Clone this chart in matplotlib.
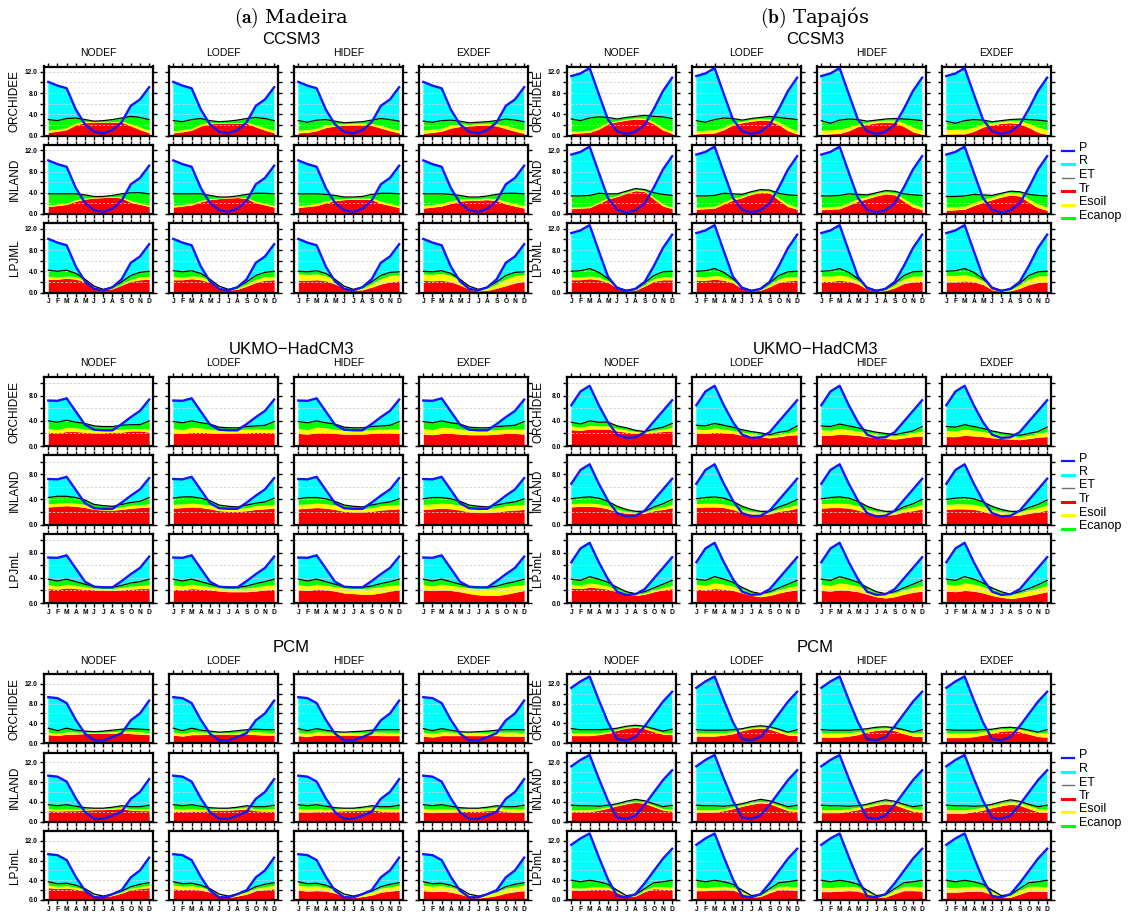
import numpy as np
import matplotlib
matplotlib.use('Agg')
import matplotlib.pyplot as plt
from matplotlib.lines import Line2D

plt.rcParams['font.family'] = ['Liberation Sans', 'DejaVu Sans']
plt.rcParams['mathtext.fontset'] = 'cm'

MONTHS = ['J', 'F', 'M', 'A', 'M', 'J', 'J', 'A', 'S', 'O', 'N', 'D']
DEFICITS = ['NODEF', 'LODEF', 'HIDEF', 'EXDEF']
MODELS = ['ORC', 'INL', 'LPJ']
ROW_LABELS = {'CCSM3': ['ORCHIDEE', 'INLAND', 'LPJML'],
              'UKMO': ['ORCHIDEE', 'INLAND', 'LPJmL'],
              'PCM': ['ORCHIDEE', 'INLAND', 'LPJmL']}
GCMS = ['CCSM3', 'UKMO', 'PCM']
GCM_TITLES = ['CCSM3', 'UKMO\u2212HadCM3', 'PCM']
BASINS = ['MAD', 'TAP']
BASIN_TAGS = [r'$\mathbf{(a)}$', r'$\mathbf{(b)}$']
BASIN_NAMES = ['Madeira', 'Tapajós']
LEGEND_LABELS = ['P', 'R', 'ET', 'Tr', 'Esoil', 'Ecanop']

# ---------------- Madeira / CCSM3 ----------------
MAD_CCSM3_P = [10.1, 9.4, 8.9, 4.9, 2.1, 0.7, 0.4, 1.0, 2.5, 5.6, 6.8, 9.1]
MAD_CCSM3_ORC_TR = [[0.6, 0.8, 1.1, 2.0, 2.4, 2.5, 2.5, 2.5, 2.5, 1.8, 1.1, 0.5],
                    [0.5, 0.7, 1.0, 1.8, 2.2, 2.3, 2.3, 2.3, 2.3, 1.6, 1.0, 0.5],
                    [0.5, 0.6, 0.9, 1.5, 1.8, 1.9, 2.0, 2.0, 1.9, 1.4, 0.9, 0.5],
                    [0.4, 0.6, 0.8, 1.4, 1.7, 1.8, 1.9, 2.0, 1.8, 1.3, 0.8, 0.4]]
MAD_CCSM3_ORC_ES = [[0.4, 0.4, 0.4, 0.4, 0.3, 0.1, 0.1, 0.1, 0.2, 0.4, 0.5, 0.5],
                    [0.4, 0.4, 0.4, 0.4, 0.3, 0.1, 0.1, 0.1, 0.2, 0.4, 0.5, 0.5],
                    [0.5, 0.5, 0.5, 0.5, 0.4, 0.3, 0.3, 0.3, 0.4, 0.5, 0.5, 0.5],
                    [0.6, 0.6, 0.6, 0.6, 0.5, 0.3, 0.3, 0.3, 0.4, 0.6, 0.6, 0.6]]
MAD_CCSM3_ORC_EC = [[2.0, 1.6, 1.7, 0.9, 0.3, 0.1, 0.2, 0.4, 0.6, 1.4, 1.8, 2.0],
                    [1.9, 1.5, 1.6, 1.0, 0.3, 0.2, 0.3, 0.5, 0.7, 1.4, 1.7, 1.8],
                    [1.8, 1.4, 1.5, 1.0, 0.5, 0.2, 0.2, 0.3, 0.6, 1.3, 1.6, 1.7],
                    [1.7, 1.3, 1.4, 0.9, 0.5, 0.3, 0.3, 0.3, 0.6, 1.2, 1.5, 1.6]]
MAD_CCSM3_INL_TR = [[1.4, 1.6, 1.8, 2.4, 2.8, 3.0, 3.1, 3.2, 3.0, 2.2, 1.8, 1.4],
                    [1.3, 1.5, 1.7, 2.3, 2.7, 2.9, 3.0, 3.1, 2.9, 2.1, 1.7, 1.3],
                    [1.2, 1.4, 1.6, 2.1, 2.5, 2.7, 2.8, 2.8, 2.7, 2.0, 1.6, 1.2],
                    [1.1, 1.3, 1.5, 2.0, 2.4, 2.6, 2.6, 2.7, 2.5, 1.9, 1.5, 1.1]]
MAD_CCSM3_INL_ES = [[0.3, 0.3, 0.3, 0.3, 0.2, 0.1, 0.1, 0.1, 0.2, 0.3, 0.3, 0.3],
                    [0.3, 0.3, 0.3, 0.3, 0.2, 0.1, 0.1, 0.1, 0.2, 0.3, 0.3, 0.3],
                    [0.4, 0.4, 0.4, 0.4, 0.3, 0.2, 0.2, 0.2, 0.3, 0.4, 0.4, 0.4],
                    [0.5, 0.5, 0.5, 0.5, 0.4, 0.3, 0.3, 0.3, 0.4, 0.5, 0.5, 0.5]]
MAD_CCSM3_INL_EC = [[2.1, 1.9, 1.7, 1.1, 0.6, 0.2, 0.1, 0.2, 0.6, 1.5, 1.9, 2.1],
                    [2.2, 2.0, 1.8, 1.2, 0.6, 0.2, 0.1, 0.2, 0.6, 1.5, 1.9, 2.2],
                    [2.2, 2.0, 1.8, 1.2, 0.7, 0.3, 0.2, 0.3, 0.7, 1.5, 1.9, 2.2],
                    [2.2, 2.0, 1.8, 1.2, 0.7, 0.3, 0.3, 0.4, 0.8, 1.5, 1.9, 2.2]]
MAD_CCSM3_LPJ_TR = [[2.5, 2.5, 2.7, 2.5, 2.0, 1.0, 0.5, 0.7, 1.4, 2.1, 2.4, 2.5],
                    [2.4, 2.4, 2.6, 2.4, 1.9, 0.9, 0.45, 0.6, 1.2, 1.9, 2.3, 2.4],
                    [2.3, 2.3, 2.4, 2.2, 1.6, 0.8, 0.4, 0.5, 1.0, 1.6, 2.0, 2.2],
                    [2.3, 2.2, 2.3, 2.0, 1.4, 0.6, 0.3, 0.4, 0.8, 1.3, 1.8, 2.1]]
MAD_CCSM3_LPJ_ES = [[0.5, 0.4, 0.4, 0.5, 0.3, 0.1, 0.05, 0.1, 0.2, 0.4, 0.6, 0.5],
                    [0.6, 0.5, 0.5, 0.6, 0.4, 0.2, 0.1, 0.2, 0.4, 0.6, 0.7, 0.6],
                    [1.2, 1.1, 1.1, 1.0, 0.7, 0.3, 0.15, 0.3, 0.6, 1.0, 1.2, 1.2],
                    [1.2, 1.2, 1.3, 1.2, 0.9, 0.5, 0.25, 0.4, 0.8, 1.3, 1.4, 1.3]]
MAD_CCSM3_LPJ_EC = [[1.2, 1.1, 1.1, 0.6, 0.2, 0.1, 0.05, 0.2, 0.4, 0.7, 0.8, 1.0],
                    [1.1, 1.0, 1.0, 0.6, 0.2, 0.1, 0.05, 0.2, 0.4, 0.7, 0.8, 1.0],
                    [0.5, 0.5, 0.6, 0.4, 0.2, 0.1, 0.05, 0.2, 0.4, 0.6, 0.6, 0.5],
                    [0.5, 0.5, 0.5, 0.4, 0.2, 0.1, 0.05, 0.2, 0.4, 0.6, 0.6, 0.5]]

# ---------------- Tapajos / CCSM3 ----------------
TAP_CCSM3_P = [11.2, 11.7, 12.7, 7.8, 3.0, 0.8, 0.3, 0.7, 2.0, 5.0, 8.4, 10.9]
TAP_CCSM3_ORC_TR = [[0.4, 0.5, 0.6, 1.2, 2.2, 2.6, 2.9, 3.1, 3.0, 2.2, 1.0, 0.4],
                    [0.3, 0.4, 0.5, 1.1, 2.0, 2.4, 2.7, 2.9, 2.8, 2.0, 0.9, 0.3],
                    [0.2, 0.3, 0.4, 0.9, 1.7, 2.1, 2.4, 2.5, 2.4, 1.7, 0.7, 0.2],
                    [0.2, 0.3, 0.3, 0.8, 1.6, 2.0, 2.3, 2.4, 2.2, 1.5, 0.6, 0.2]]
TAP_CCSM3_ORC_ES = [[0.4, 0.4, 0.4, 0.4, 0.3, 0.2, 0.2, 0.2, 0.3, 0.4, 0.5, 0.4],
                    [0.6, 0.6, 0.6, 0.5, 0.4, 0.3, 0.3, 0.3, 0.4, 0.6, 0.7, 0.6],
                    [0.8, 0.8, 0.8, 0.7, 0.5, 0.4, 0.3, 0.4, 0.5, 0.7, 0.9, 0.8],
                    [0.9, 0.9, 0.9, 0.8, 0.6, 0.4, 0.3, 0.4, 0.6, 0.8, 1.0, 0.9]]
TAP_CCSM3_ORC_EC = [[2.3, 1.9, 2.3, 1.9, 0.9, 0.3, 0.3, 0.3, 0.5, 1.0, 2.0, 2.4],
                    [1.9, 1.5, 1.9, 1.7, 0.8, 0.2, 0.2, 0.2, 0.4, 0.8, 1.6, 2.1],
                    [1.8, 1.2, 1.7, 1.5, 0.8, 0.2, 0.2, 0.2, 0.3, 0.7, 1.4, 1.8],
                    [1.6, 1.1, 1.6, 1.4, 0.7, 0.2, 0.2, 0.2, 0.3, 0.7, 1.3, 1.6]]
TAP_CCSM3_INL_TR = [[1.0, 1.1, 1.2, 2.0, 2.8, 3.3, 3.9, 4.4, 4.2, 2.8, 1.5, 1.0],
                    [0.9, 1.0, 1.1, 1.9, 2.6, 3.1, 3.7, 4.1, 4.0, 2.6, 1.4, 0.9],
                    [0.8, 0.9, 1.0, 1.7, 2.4, 2.9, 3.4, 3.8, 3.6, 2.4, 1.3, 0.8],
                    [0.7, 0.8, 0.9, 1.6, 2.2, 2.7, 3.2, 3.6, 3.4, 2.2, 1.2, 0.7]]
TAP_CCSM3_INL_ES = [[0.3, 0.3, 0.3, 0.3, 0.3, 0.2, 0.2, 0.2, 0.2, 0.3, 0.4, 0.3],
                    [0.4, 0.4, 0.4, 0.4, 0.4, 0.3, 0.3, 0.3, 0.3, 0.4, 0.5, 0.4],
                    [0.5, 0.5, 0.5, 0.5, 0.5, 0.4, 0.4, 0.4, 0.4, 0.5, 0.6, 0.5],
                    [0.6, 0.6, 0.6, 0.6, 0.6, 0.5, 0.5, 0.5, 0.5, 0.6, 0.7, 0.6]]
TAP_CCSM3_INL_EC = [[2.1, 2.0, 2.0, 1.6, 0.7, 0.3, 0.2, 0.2, 0.2, 0.9, 1.8, 2.2],
                    [2.1, 2.0, 2.0, 1.6, 0.8, 0.3, 0.2, 0.2, 0.2, 0.9, 1.7, 2.2],
                    [2.1, 2.0, 2.0, 1.6, 0.8, 0.3, 0.2, 0.2, 0.3, 0.9, 1.7, 2.2],
                    [2.0, 1.9, 1.9, 1.5, 0.8, 0.3, 0.2, 0.2, 0.3, 0.9, 1.6, 2.1]]
TAP_CCSM3_LPJ_TR = [[2.4, 2.4, 2.6, 2.4, 1.9, 0.8, 0.3, 0.4, 1.2, 2.1, 2.4, 2.4],
                    [2.3, 2.3, 2.5, 2.3, 1.8, 0.7, 0.3, 0.4, 1.1, 1.9, 2.2, 2.3],
                    [2.1, 2.1, 2.3, 2.1, 1.6, 0.6, 0.25, 0.35, 0.9, 1.7, 2.0, 2.1],
                    [2.0, 2.0, 2.2, 2.0, 1.5, 0.5, 0.2, 0.3, 0.8, 1.5, 1.9, 2.0]]
TAP_CCSM3_LPJ_ES = [[0.5, 0.5, 0.5, 0.5, 0.3, 0.1, 0.05, 0.1, 0.3, 0.5, 0.6, 0.5],
                    [0.7, 0.7, 0.7, 0.7, 0.5, 0.2, 0.05, 0.1, 0.4, 0.7, 0.8, 0.7],
                    [1.0, 1.0, 1.0, 0.9, 0.6, 0.3, 0.1, 0.15, 0.5, 0.9, 1.1, 1.0],
                    [1.2, 1.2, 1.2, 1.0, 0.7, 0.4, 0.15, 0.2, 0.6, 1.1, 1.2, 1.2]]
TAP_CCSM3_LPJ_EC = [[1.1, 1.2, 1.4, 0.9, 0.4, 0.1, 0.05, 0.1, 0.3, 0.6, 0.9, 1.1],
                    [1.0, 1.1, 1.3, 0.8, 0.3, 0.1, 0.05, 0.1, 0.3, 0.6, 0.9, 1.0],
                    [0.9, 1.0, 1.2, 0.8, 0.4, 0.1, 0.05, 0.1, 0.3, 0.6, 0.8, 0.9],
                    [0.8, 0.9, 1.1, 0.8, 0.4, 0.1, 0.05, 0.1, 0.3, 0.6, 0.8, 0.8]]

# ---------------- Madeira / UKMO-HadCM3 ----------------
MAD_UKMO_P = [7.25, 7.2, 7.6, 5.5, 3.4, 2.6, 2.5, 2.5, 3.5, 4.6, 5.6, 7.4]
MAD_UKMO_ORC_TR = [[2.2, 2.1, 2.3, 2.3, 2.2, 2.1, 2.1, 2.2, 2.2, 2.4, 2.4, 2.2],
                   [2.1, 2.0, 2.2, 2.2, 2.1, 2.0, 2.0, 2.1, 2.1, 2.2, 2.2, 2.1],
                   [2.0, 1.9, 2.1, 2.1, 2.0, 1.9, 1.9, 1.9, 2.0, 2.1, 2.1, 2.0],
                   [1.9, 1.8, 2.0, 2.0, 1.9, 1.8, 1.8, 1.8, 1.9, 2.0, 2.0, 1.9]]
MAD_UKMO_ORC_ES = [[0.6, 0.5, 0.7, 0.6, 0.5, 0.4, 0.4, 0.4, 0.5, 0.4, 0.4, 0.5],
                   [0.7, 0.6, 0.8, 0.7, 0.6, 0.5, 0.5, 0.5, 0.6, 0.5, 0.5, 0.6],
                   [0.8, 0.7, 0.9, 0.8, 0.7, 0.6, 0.6, 0.6, 0.6, 0.6, 0.6, 0.7],
                   [0.9, 0.8, 1.0, 0.9, 0.8, 0.7, 0.7, 0.7, 0.7, 0.7, 0.7, 0.8]]
MAD_UKMO_ORC_EC = [[1.2, 1.2, 1.1, 0.9, 0.9, 0.7, 0.6, 0.5, 0.6, 0.6, 0.6, 1.3],
                   [1.1, 1.1, 1.0, 0.8, 0.8, 0.5, 0.4, 0.3, 0.4, 0.5, 0.6, 1.2],
                   [1.1, 1.1, 1.0, 0.8, 0.8, 0.5, 0.4, 0.4, 0.5, 0.5, 0.6, 1.2],
                   [1.1, 1.1, 1.0, 0.8, 0.8, 0.5, 0.4, 0.4, 0.5, 0.5, 0.6, 1.2]]
MAD_UKMO_INL_TR = [[2.8, 2.9, 3.0, 2.9, 2.7, 2.4, 2.3, 2.3, 2.4, 2.6, 2.7, 2.8],
                   [2.6, 2.7, 2.8, 2.7, 2.5, 2.2, 2.1, 2.1, 2.2, 2.4, 2.5, 2.6],
                   [2.5, 2.6, 2.7, 2.6, 2.4, 2.1, 2.0, 2.0, 2.1, 2.3, 2.4, 2.5],
                   [2.4, 2.5, 2.6, 2.5, 2.3, 2.0, 1.9, 1.9, 2.0, 2.2, 2.3, 2.4]]
MAD_UKMO_INL_ES = [[0.5, 0.5, 0.5, 0.5, 0.5, 0.4, 0.4, 0.3, 0.4, 0.5, 0.5, 0.5],
                   [0.6, 0.6, 0.6, 0.6, 0.6, 0.5, 0.5, 0.4, 0.5, 0.6, 0.6, 0.6],
                   [0.7, 0.7, 0.7, 0.7, 0.7, 0.6, 0.6, 0.5, 0.6, 0.7, 0.7, 0.7],
                   [0.8, 0.8, 0.8, 0.8, 0.8, 0.7, 0.7, 0.6, 0.7, 0.8, 0.8, 0.8]]
MAD_UKMO_INL_EC = [[1.0, 1.1, 1.0, 0.9, 0.7, 0.4, 0.3, 0.3, 0.4, 0.4, 0.5, 1.0],
                   [1.0, 1.1, 1.0, 0.9, 0.7, 0.4, 0.3, 0.3, 0.4, 0.4, 0.5, 1.0],
                   [0.9, 1.0, 0.9, 0.8, 0.6, 0.4, 0.3, 0.3, 0.4, 0.4, 0.5, 0.9],
                   [0.9, 1.0, 0.9, 0.8, 0.6, 0.4, 0.3, 0.3, 0.4, 0.4, 0.5, 0.9]]
MAD_UKMO_LPJ_TR = [[2.3, 2.2, 2.4, 2.3, 2.2, 2.1, 2.0, 2.0, 2.1, 2.2, 2.3, 2.3],
                   [2.2, 2.1, 2.3, 2.2, 2.1, 1.9, 1.8, 1.8, 1.8, 1.9, 2.1, 2.2],
                   [2.1, 2.0, 2.2, 2.1, 1.9, 1.6, 1.5, 1.4, 1.4, 1.6, 1.9, 2.1],
                   [2.1, 2.0, 2.1, 2.0, 1.8, 1.5, 1.3, 1.2, 1.2, 1.4, 1.7, 2.0]]
MAD_UKMO_LPJ_ES = [[0.6, 0.5, 0.6, 0.5, 0.4, 0.3, 0.3, 0.3, 0.4, 0.5, 0.5, 0.6],
                   [0.7, 0.6, 0.7, 0.6, 0.5, 0.5, 0.5, 0.5, 0.6, 0.7, 0.7, 0.7],
                   [0.8, 0.7, 0.8, 0.7, 0.7, 0.8, 0.8, 0.9, 1.0, 1.0, 0.9, 0.8],
                   [0.8, 0.7, 0.9, 0.8, 0.8, 0.9, 1.0, 1.1, 1.2, 1.2, 1.1, 0.9]]
MAD_UKMO_LPJ_EC = [[0.9, 0.8, 0.8, 0.6, 0.4, 0.2, 0.2, 0.2, 0.3, 0.5, 0.6, 0.9],
                   [0.9, 0.8, 0.8, 0.6, 0.4, 0.2, 0.2, 0.2, 0.3, 0.5, 0.6, 0.9],
                   [0.9, 0.8, 0.8, 0.6, 0.4, 0.2, 0.2, 0.2, 0.3, 0.5, 0.6, 0.9],
                   [0.9, 0.8, 0.8, 0.6, 0.4, 0.2, 0.2, 0.2, 0.3, 0.5, 0.6, 0.9]]

# ---------------- Tapajos / UKMO-HadCM3 ----------------
TAP_UKMO_P = [6.5, 8.7, 9.6, 6.5, 3.8, 1.8, 1.3, 1.4, 2.2, 3.9, 5.6, 7.3]
TAP_UKMO_ORC_TR = [[2.6, 2.5, 2.7, 2.7, 2.7, 2.4, 2.2, 2.0, 2.0, 2.2, 2.3, 2.4],
                   [2.0, 2.0, 2.2, 2.1, 2.0, 1.7, 1.5, 1.4, 1.3, 1.5, 1.7, 1.8],
                   [1.7, 1.7, 1.9, 1.8, 1.7, 1.5, 1.3, 1.2, 1.1, 1.3, 1.5, 1.6],
                   [1.5, 1.5, 1.7, 1.6, 1.5, 1.3, 1.2, 1.1, 1.0, 1.2, 1.4, 1.5]]
TAP_UKMO_ORC_ES = [[0.6, 0.5, 0.6, 0.5, 0.5, 0.4, 0.4, 0.3, 0.2, 0.3, 0.4, 0.6],
                   [0.7, 0.6, 0.7, 0.6, 0.5, 0.5, 0.5, 0.4, 0.3, 0.4, 0.4, 0.7],
                   [0.9, 0.8, 0.9, 0.8, 0.7, 0.6, 0.6, 0.5, 0.5, 0.5, 0.6, 0.8],
                   [1.0, 0.9, 1.0, 0.9, 0.8, 0.7, 0.6, 0.5, 0.5, 0.5, 0.6, 0.8]]
TAP_UKMO_ORC_EC = [[0.6, 0.5, 0.7, 0.6, 0.6, 0.4, 0.3, 0.2, 0.1, 0.2, 0.3, 0.6],
                   [0.6, 0.6, 0.7, 0.6, 0.5, 0.4, 0.3, 0.3, 0.2, 0.3, 0.3, 0.7],
                   [0.6, 0.6, 0.7, 0.6, 0.5, 0.4, 0.3, 0.3, 0.2, 0.3, 0.3, 0.7],
                   [0.6, 0.6, 0.7, 0.6, 0.5, 0.4, 0.3, 0.3, 0.2, 0.3, 0.3, 0.7]]
TAP_UKMO_INL_TR = [[2.8, 2.9, 2.9, 2.8, 2.5, 2.0, 1.8, 1.7, 1.8, 2.2, 2.4, 2.7],
                   [2.7, 2.8, 2.8, 2.7, 2.4, 1.9, 1.7, 1.6, 1.7, 2.1, 2.3, 2.6],
                   [2.6, 2.7, 2.7, 2.6, 2.3, 1.8, 1.6, 1.5, 1.6, 2.0, 2.2, 2.5],
                   [2.4, 2.5, 2.5, 2.4, 2.1, 1.7, 1.5, 1.4, 1.5, 1.8, 2.0, 2.3]]
TAP_UKMO_INL_ES = [[0.5, 0.5, 0.5, 0.5, 0.5, 0.4, 0.3, 0.2, 0.2, 0.3, 0.4, 0.5],
                   [0.6, 0.6, 0.6, 0.6, 0.6, 0.5, 0.4, 0.3, 0.3, 0.4, 0.5, 0.6],
                   [0.7, 0.7, 0.7, 0.7, 0.7, 0.6, 0.5, 0.4, 0.4, 0.5, 0.6, 0.7],
                   [0.8, 0.8, 0.8, 0.8, 0.8, 0.7, 0.6, 0.5, 0.5, 0.6, 0.7, 0.8]]
TAP_UKMO_INL_EC = [[0.8, 0.9, 1.0, 0.9, 0.7, 0.5, 0.3, 0.2, 0.1, 0.3, 0.5, 0.8],
                   [0.8, 0.9, 1.0, 0.9, 0.7, 0.5, 0.3, 0.2, 0.1, 0.3, 0.5, 0.8],
                   [0.8, 0.9, 1.0, 0.9, 0.7, 0.5, 0.3, 0.2, 0.1, 0.3, 0.5, 0.8],
                   [0.8, 0.9, 1.0, 0.9, 0.7, 0.5, 0.3, 0.2, 0.1, 0.3, 0.5, 0.8]]
TAP_UKMO_LPJ_TR = [[2.4, 2.3, 2.5, 2.4, 2.2, 1.8, 1.4, 1.2, 1.4, 1.8, 2.1, 2.3],
                   [2.2, 2.1, 2.3, 2.2, 2.0, 1.6, 1.2, 1.0, 1.2, 1.6, 1.9, 2.1],
                   [2.0, 1.9, 2.1, 2.0, 1.8, 1.4, 1.0, 0.8, 1.0, 1.4, 1.7, 1.9],
                   [1.9, 1.8, 2.0, 1.9, 1.6, 1.2, 0.9, 0.7, 0.9, 1.2, 1.5, 1.8]]
TAP_UKMO_LPJ_ES = [[0.6, 0.5, 0.7, 0.6, 0.5, 0.3, 0.2, 0.2, 0.2, 0.3, 0.4, 0.5],
                   [0.8, 0.7, 0.9, 0.8, 0.7, 0.5, 0.4, 0.4, 0.4, 0.5, 0.6, 0.7],
                   [1.0, 0.9, 1.1, 1.0, 0.9, 0.7, 0.6, 0.6, 0.6, 0.7, 0.8, 0.9],
                   [1.1, 1.0, 1.2, 1.1, 1.0, 0.8, 0.7, 0.6, 0.7, 0.8, 0.9, 1.0]]
TAP_UKMO_LPJ_EC = [[0.8, 0.8, 1.0, 0.8, 0.6, 0.4, 0.2, 0.1, 0.2, 0.3, 0.5, 0.8],
                   [0.8, 0.8, 1.0, 0.8, 0.6, 0.4, 0.2, 0.1, 0.2, 0.3, 0.5, 0.8],
                   [0.8, 0.8, 1.0, 0.8, 0.6, 0.4, 0.2, 0.1, 0.2, 0.3, 0.5, 0.8],
                   [0.8, 0.8, 1.0, 0.8, 0.6, 0.4, 0.2, 0.1, 0.2, 0.3, 0.5, 0.8]]

# ---------------- Madeira / PCM ----------------
MAD_PCM_P = [9.3, 9.1, 8.1, 4.7, 1.9, 0.55, 0.55, 1.2, 2.0, 4.6, 6.0, 8.6]
MAD_PCM_ORC_TR = [[1.7, 1.5, 1.8, 1.8, 1.9, 2.0, 2.0, 2.0, 2.0, 1.9, 1.8, 1.7],
                  [1.6, 1.4, 1.7, 1.7, 1.8, 1.8, 1.8, 1.8, 1.8, 1.7, 1.6, 1.6],
                  [1.5, 1.3, 1.6, 1.6, 1.6, 1.6, 1.6, 1.6, 1.6, 1.5, 1.5, 1.5],
                  [1.4, 1.2, 1.5, 1.5, 1.5, 1.5, 1.5, 1.5, 1.5, 1.4, 1.4, 1.4]]
MAD_PCM_ORC_ES = [[0.5, 0.4, 0.5, 0.4, 0.3, 0.2, 0.2, 0.3, 0.4, 0.5, 0.5, 0.4],
                  [0.6, 0.5, 0.6, 0.5, 0.4, 0.3, 0.3, 0.4, 0.5, 0.6, 0.6, 0.5],
                  [0.7, 0.6, 0.7, 0.6, 0.5, 0.5, 0.5, 0.5, 0.6, 0.7, 0.7, 0.6],
                  [0.8, 0.7, 0.8, 0.7, 0.6, 0.6, 0.6, 0.6, 0.7, 0.8, 0.8, 0.7]]
MAD_PCM_ORC_EC = [[0.8, 0.6, 0.7, 0.4, 0.2, 0.1, 0.2, 0.3, 0.4, 0.5, 0.5, 0.6],
                  [0.8, 0.6, 0.7, 0.4, 0.2, 0.1, 0.2, 0.3, 0.4, 0.5, 0.5, 0.6],
                  [0.7, 0.6, 0.6, 0.4, 0.2, 0.1, 0.2, 0.3, 0.4, 0.5, 0.5, 0.6],
                  [0.7, 0.6, 0.6, 0.4, 0.2, 0.1, 0.2, 0.3, 0.4, 0.5, 0.5, 0.6]]
MAD_PCM_INL_TR = [[2.2, 2.1, 2.2, 2.2, 2.3, 2.4, 2.4, 2.5, 2.6, 2.3, 2.2, 2.2],
                  [2.1, 2.0, 2.1, 2.1, 2.2, 2.3, 2.3, 2.4, 2.5, 2.2, 2.1, 2.1],
                  [2.0, 1.9, 2.0, 2.0, 2.1, 2.2, 2.2, 2.3, 2.4, 2.1, 2.0, 2.0],
                  [1.9, 1.8, 1.9, 1.9, 2.0, 2.1, 2.1, 2.2, 2.3, 2.0, 1.9, 1.9]]
MAD_PCM_INL_ES = [[0.4, 0.4, 0.4, 0.3, 0.2, 0.2, 0.2, 0.2, 0.3, 0.3, 0.4, 0.4],
                  [0.5, 0.5, 0.5, 0.4, 0.3, 0.3, 0.3, 0.3, 0.4, 0.4, 0.5, 0.5],
                  [0.6, 0.6, 0.6, 0.5, 0.4, 0.4, 0.4, 0.4, 0.5, 0.5, 0.6, 0.6],
                  [0.7, 0.7, 0.7, 0.6, 0.5, 0.5, 0.5, 0.5, 0.6, 0.6, 0.7, 0.7]]
MAD_PCM_INL_EC = [[0.8, 0.7, 0.8, 0.6, 0.3, 0.1, 0.1, 0.2, 0.3, 0.4, 0.4, 0.7],
                  [0.8, 0.7, 0.8, 0.6, 0.3, 0.1, 0.1, 0.2, 0.3, 0.4, 0.4, 0.7],
                  [0.8, 0.7, 0.8, 0.6, 0.3, 0.1, 0.1, 0.2, 0.3, 0.4, 0.4, 0.7],
                  [0.8, 0.7, 0.8, 0.6, 0.3, 0.1, 0.1, 0.2, 0.3, 0.4, 0.4, 0.7]]
MAD_PCM_LPJ_TR = [[2.5, 2.3, 2.4, 2.2, 1.8, 0.9, 0.6, 0.9, 1.4, 2.1, 2.3, 2.5],
                  [2.3, 2.1, 2.2, 2.0, 1.6, 0.8, 0.5, 0.8, 1.2, 1.9, 2.1, 2.3],
                  [2.0, 1.8, 1.9, 1.8, 1.4, 0.7, 0.45, 0.7, 1.0, 1.6, 1.8, 2.0],
                  [1.9, 1.7, 1.8, 1.6, 1.2, 0.6, 0.4, 0.6, 0.9, 1.4, 1.7, 1.9]]
MAD_PCM_LPJ_ES = [[0.5, 0.5, 0.5, 0.4, 0.3, 0.2, 0.1, 0.2, 0.2, 0.3, 0.4, 0.5],
                  [0.7, 0.7, 0.7, 0.6, 0.5, 0.3, 0.2, 0.3, 0.4, 0.5, 0.6, 0.7],
                  [1.0, 1.0, 1.0, 0.8, 0.7, 0.4, 0.25, 0.4, 0.6, 0.8, 0.9, 1.0],
                  [1.1, 1.1, 1.1, 1.0, 0.9, 0.5, 0.3, 0.5, 0.7, 1.0, 1.0, 1.1]]
MAD_PCM_LPJ_EC = [[0.7, 0.5, 0.5, 0.4, 0.2, 0.1, 0.1, 0.1, 0.2, 0.3, 0.5, 0.5],
                  [0.7, 0.5, 0.5, 0.4, 0.2, 0.1, 0.1, 0.1, 0.2, 0.3, 0.5, 0.5],
                  [0.7, 0.5, 0.5, 0.4, 0.2, 0.1, 0.1, 0.1, 0.2, 0.3, 0.5, 0.5],
                  [0.7, 0.5, 0.5, 0.4, 0.2, 0.1, 0.1, 0.1, 0.2, 0.3, 0.5, 0.5]]

# ---------------- Tapajos / PCM ----------------
TAP_PCM_P = [11.2, 12.5, 13.5, 8.7, 4.2, 0.8, 0.55, 1.2, 3.4, 5.9, 8.4, 10.4]
TAP_PCM_ORC_TR = [[1.5, 1.5, 1.5, 1.7, 2.0, 2.6, 3.0, 3.2, 2.9, 2.3, 1.8, 1.7],
                  [1.4, 1.4, 1.4, 1.6, 1.9, 2.5, 2.9, 3.0, 2.8, 2.2, 1.6, 1.5],
                  [1.2, 1.2, 1.2, 1.4, 1.7, 2.2, 2.6, 2.7, 2.5, 1.9, 1.4, 1.3],
                  [1.1, 1.1, 1.1, 1.3, 1.6, 2.0, 2.4, 2.5, 2.3, 1.8, 1.3, 1.2]]
TAP_PCM_ORC_ES = [[0.5, 0.5, 0.5, 0.4, 0.3, 0.2, 0.2, 0.2, 0.3, 0.3, 0.3, 0.4],
                  [0.6, 0.6, 0.6, 0.5, 0.4, 0.3, 0.2, 0.3, 0.3, 0.4, 0.4, 0.6],
                  [0.8, 0.8, 0.8, 0.7, 0.6, 0.5, 0.4, 0.4, 0.4, 0.6, 0.6, 0.8],
                  [0.9, 0.9, 0.9, 0.8, 0.7, 0.6, 0.5, 0.5, 0.5, 0.6, 0.7, 0.9]]
TAP_PCM_ORC_EC = [[0.9, 0.7, 0.7, 0.6, 0.5, 0.2, 0.2, 0.2, 0.2, 0.3, 0.3, 0.7],
                  [0.7, 0.6, 0.6, 0.5, 0.4, 0.1, 0.2, 0.2, 0.2, 0.2, 0.2, 0.6],
                  [0.7, 0.6, 0.6, 0.5, 0.4, 0.2, 0.2, 0.2, 0.2, 0.2, 0.2, 0.6],
                  [0.7, 0.6, 0.6, 0.5, 0.4, 0.2, 0.2, 0.2, 0.2, 0.2, 0.2, 0.6]]
TAP_PCM_INL_TR = [[2.0, 2.0, 2.0, 2.3, 2.7, 3.2, 3.6, 3.9, 3.7, 3.0, 2.3, 2.1],
                  [1.9, 1.9, 1.9, 2.2, 2.6, 3.1, 3.5, 3.8, 3.6, 2.9, 2.2, 2.0],
                  [1.8, 1.8, 1.8, 2.1, 2.4, 2.9, 3.3, 3.6, 3.4, 2.7, 2.1, 1.9],
                  [1.7, 1.7, 1.7, 2.0, 2.3, 2.8, 3.2, 3.5, 3.3, 2.6, 2.0, 1.8]]
TAP_PCM_INL_ES = [[0.4, 0.4, 0.4, 0.3, 0.3, 0.2, 0.2, 0.2, 0.2, 0.3, 0.3, 0.4],
                  [0.5, 0.5, 0.5, 0.4, 0.4, 0.3, 0.3, 0.3, 0.3, 0.4, 0.4, 0.5],
                  [0.6, 0.6, 0.6, 0.5, 0.5, 0.4, 0.4, 0.4, 0.4, 0.5, 0.5, 0.6],
                  [0.7, 0.7, 0.7, 0.6, 0.6, 0.5, 0.5, 0.5, 0.5, 0.6, 0.6, 0.7]]
TAP_PCM_INL_EC = [[0.9, 0.8, 0.8, 0.5, 0.3, 0.2, 0.3, 0.4, 0.3, 0.3, 0.4, 0.8],
                  [0.9, 0.8, 0.8, 0.5, 0.3, 0.2, 0.3, 0.4, 0.3, 0.3, 0.4, 0.8],
                  [0.9, 0.8, 0.8, 0.5, 0.3, 0.2, 0.3, 0.4, 0.3, 0.3, 0.4, 0.8],
                  [0.9, 0.8, 0.8, 0.5, 0.3, 0.2, 0.3, 0.4, 0.3, 0.3, 0.4, 0.8]]
TAP_PCM_LPJ_TR = [[2.0, 2.0, 2.1, 2.2, 2.2, 1.5, 0.7, 0.8, 1.7, 2.3, 2.2, 2.1],
                  [1.9, 1.9, 2.0, 2.1, 2.0, 1.3, 0.6, 0.7, 1.5, 2.1, 2.1, 2.0],
                  [1.7, 1.7, 1.8, 1.9, 1.8, 1.2, 0.55, 0.6, 1.3, 1.9, 1.9, 1.8],
                  [1.6, 1.6, 1.7, 1.8, 1.7, 1.1, 0.5, 0.55, 1.2, 1.8, 1.8, 1.7]]
TAP_PCM_LPJ_ES = [[0.5, 0.4, 0.5, 0.5, 0.4, 0.2, 0.1, 0.1, 0.3, 0.5, 0.5, 0.5],
                  [0.7, 0.6, 0.7, 0.7, 0.6, 0.4, 0.2, 0.2, 0.5, 0.7, 0.7, 0.7],
                  [0.9, 0.8, 0.9, 0.9, 0.8, 0.5, 0.25, 0.3, 0.7, 0.9, 0.9, 0.9],
                  [1.0, 0.9, 1.0, 1.0, 0.9, 0.6, 0.3, 0.35, 0.8, 1.0, 1.0, 1.0]]
TAP_PCM_LPJ_EC = [[1.5, 1.3, 1.4, 1.0, 0.6, 0.3, 0.1, 0.2, 0.3, 0.7, 1.0, 1.4],
                  [1.4, 1.2, 1.3, 0.9, 0.6, 0.3, 0.1, 0.2, 0.3, 0.7, 0.9, 1.3],
                  [1.4, 1.2, 1.3, 0.9, 0.6, 0.3, 0.1, 0.2, 0.3, 0.7, 0.9, 1.3],
                  [1.4, 1.2, 1.3, 0.9, 0.6, 0.3, 0.1, 0.2, 0.3, 0.7, 0.9, 1.3]]

# ---------------- lookup tables ----------------
PRECIP = {('MAD', 'CCSM3'): MAD_CCSM3_P, ('TAP', 'CCSM3'): TAP_CCSM3_P,
          ('MAD', 'UKMO'): MAD_UKMO_P, ('TAP', 'UKMO'): TAP_UKMO_P,
          ('MAD', 'PCM'): MAD_PCM_P, ('TAP', 'PCM'): TAP_PCM_P}
COMPONENTS = {
    ('MAD', 'CCSM3', 'ORC'): (MAD_CCSM3_ORC_TR, MAD_CCSM3_ORC_ES, MAD_CCSM3_ORC_EC),
    ('MAD', 'CCSM3', 'INL'): (MAD_CCSM3_INL_TR, MAD_CCSM3_INL_ES, MAD_CCSM3_INL_EC),
    ('MAD', 'CCSM3', 'LPJ'): (MAD_CCSM3_LPJ_TR, MAD_CCSM3_LPJ_ES, MAD_CCSM3_LPJ_EC),
    ('TAP', 'CCSM3', 'ORC'): (TAP_CCSM3_ORC_TR, TAP_CCSM3_ORC_ES, TAP_CCSM3_ORC_EC),
    ('TAP', 'CCSM3', 'INL'): (TAP_CCSM3_INL_TR, TAP_CCSM3_INL_ES, TAP_CCSM3_INL_EC),
    ('TAP', 'CCSM3', 'LPJ'): (TAP_CCSM3_LPJ_TR, TAP_CCSM3_LPJ_ES, TAP_CCSM3_LPJ_EC),
    ('MAD', 'UKMO', 'ORC'): (MAD_UKMO_ORC_TR, MAD_UKMO_ORC_ES, MAD_UKMO_ORC_EC),
    ('MAD', 'UKMO', 'INL'): (MAD_UKMO_INL_TR, MAD_UKMO_INL_ES, MAD_UKMO_INL_EC),
    ('MAD', 'UKMO', 'LPJ'): (MAD_UKMO_LPJ_TR, MAD_UKMO_LPJ_ES, MAD_UKMO_LPJ_EC),
    ('TAP', 'UKMO', 'ORC'): (TAP_UKMO_ORC_TR, TAP_UKMO_ORC_ES, TAP_UKMO_ORC_EC),
    ('TAP', 'UKMO', 'INL'): (TAP_UKMO_INL_TR, TAP_UKMO_INL_ES, TAP_UKMO_INL_EC),
    ('TAP', 'UKMO', 'LPJ'): (TAP_UKMO_LPJ_TR, TAP_UKMO_LPJ_ES, TAP_UKMO_LPJ_EC),
    ('MAD', 'PCM', 'ORC'): (MAD_PCM_ORC_TR, MAD_PCM_ORC_ES, MAD_PCM_ORC_EC),
    ('MAD', 'PCM', 'INL'): (MAD_PCM_INL_TR, MAD_PCM_INL_ES, MAD_PCM_INL_EC),
    ('MAD', 'PCM', 'LPJ'): (MAD_PCM_LPJ_TR, MAD_PCM_LPJ_ES, MAD_PCM_LPJ_EC),
    ('TAP', 'PCM', 'ORC'): (TAP_PCM_ORC_TR, TAP_PCM_ORC_ES, TAP_PCM_ORC_EC),
    ('TAP', 'PCM', 'INL'): (TAP_PCM_INL_TR, TAP_PCM_INL_ES, TAP_PCM_INL_EC),
    ('TAP', 'PCM', 'LPJ'): (TAP_PCM_LPJ_TR, TAP_PCM_LPJ_ES, TAP_PCM_LPJ_EC),
}
YMAX = {'CCSM3': 13, 'UKMO': 11, 'PCM': 14}

# ---------------- styling / layout ----------------
C_P, C_R, C_TR, C_ES, C_EC = '#1414ff', '#00ffff', '#ff0000', '#ffff00', '#00ff00'
W, H = 1134, 916
COL_X = {'MAD': [44, 169, 294, 419], 'TAP': [567, 692, 817, 942]}
PW, PH, ROW_STEP = 109, 69, 78.5
BLOCK_TOP = [66.5, 377, 674]
GROUP_CX = {'MAD': 291, 'TAP': 815}
ROWLAB_X = {'MAD': 15, 'TAP': 538}

fig = plt.figure(figsize=(W / 100, H / 100), dpi=100)


def fx(px):
    return px / W


def fy(py):
    return 1 - py / H


x = np.arange(12)
for gi, gcm in enumerate(GCMS):
    top = BLOCK_TOP[gi]
    ymax = YMAX[gcm]
    for basin in BASINS:
        P = np.array(PRECIP[(basin, gcm)])
        for mi, model in enumerate(MODELS):
            trs, ess, ecs = COMPONENTS[(basin, gcm, model)]
            ptop = top + mi * ROW_STEP
            for di, dfc in enumerate(DEFICITS):
                x0 = COL_X[basin][di]
                ax = fig.add_axes([fx(x0), fy(ptop + PH), PW / W, PH / H])
                tr = np.array(trs[di])
                es = np.array(ess[di])
                ec = np.array(ecs[di])
                l1 = tr
                l2 = tr + es
                et = l2 + ec
                ax.fill_between(x, et, P, where=P >= et, interpolate=True,
                                color=C_R, lw=0, zorder=1)
                ax.fill_between(x, 0, l1, color=C_TR, lw=0, zorder=1)
                ax.fill_between(x, l1, l2, color=C_ES, lw=0, zorder=1)
                ax.fill_between(x, l2, et, color=C_EC, lw=0, zorder=1)
                for yv in range(2, ymax + 1, 2):
                    ax.axhline(yv, color='#d0d0d0', lw=0.6, ls=(0, (3, 2)), zorder=2)
                ax.plot(x, et, color='black', lw=0.9, zorder=3)
                ax.plot(x, P, color=C_P, lw=1.7, zorder=4, solid_joinstyle='round')
                ax.set_xlim(-0.47, 11.42)
                ax.set_ylim(0, ymax)
                ax.set_xticks(x)
                ax.set_xticklabels(MONTHS, fontweight='bold', fontsize=4.8)
                majors = [v for v in [0, 4, 8, 12] if v <= ymax]
                minors = [v for v in [2, 6, 10] if v <= ymax]
                ax.set_yticks(majors)
                ax.set_yticks(minors, minor=True)
                ax.set_yticklabels(['%.1f' % v for v in majors], fontweight='bold', fontsize=4.8)
                ax.tick_params(axis='x', which='major', direction='out', length=2.6, width=1.0,
                               top=True, bottom=True, labelbottom=(mi == 2), pad=1.5)
                ax.tick_params(axis='y', which='both', direction='out', length=2.8, width=1.0,
                               left=True, right=True, labelleft=(di == 0), pad=1.6)
                for sp in ax.spines.values():
                    sp.set_linewidth(1.6)
                if mi == 0:
                    fig.text(fx(x0 + PW / 2), fy(top - 13.5), dfc, fontsize=7.5,
                             ha='center', va='center')
                if di == 0:
                    fig.text(fx(ROWLAB_X[basin]), fy(ptop + PH / 2), ROW_LABELS[gcm][mi],
                             rotation=90, fontsize=8.5, ha='center', va='center')
        fig.text(fx(GROUP_CX[basin]), fy(top - 27), GCM_TITLES[gi], fontsize=12,
                 ha='center', va='center')
    # legend for the block
    leg_styles = [(C_P, 1.6), (C_R, 2.2), ('#707070', 1.0), (C_TR, 2.2), (C_ES, 2.2), (C_EC, 2.2)]
    for k, (lab, (col, lw)) in enumerate(zip(LEGEND_LABELS, leg_styles)):
        ly = top + 84 + k * 13.5
        fig.add_artist(Line2D([fx(1062), fx(1074)], [fy(ly), fy(ly)], color=col, lw=lw,
                              transform=fig.transFigure))
        fig.text(fx(1079), fy(ly + 0.5), lab, fontsize=9, ha='left', va='baseline')

for bi, basin in enumerate(BASINS):
    fig.text(fx(GROUP_CX[basin]), fy(18), BASIN_TAGS[bi] + ' ' + BASIN_NAMES[bi],
             fontsize=14, ha='center', va='center', family=['DejaVu Serif'])

fig.savefig('out.png', dpi=100)
